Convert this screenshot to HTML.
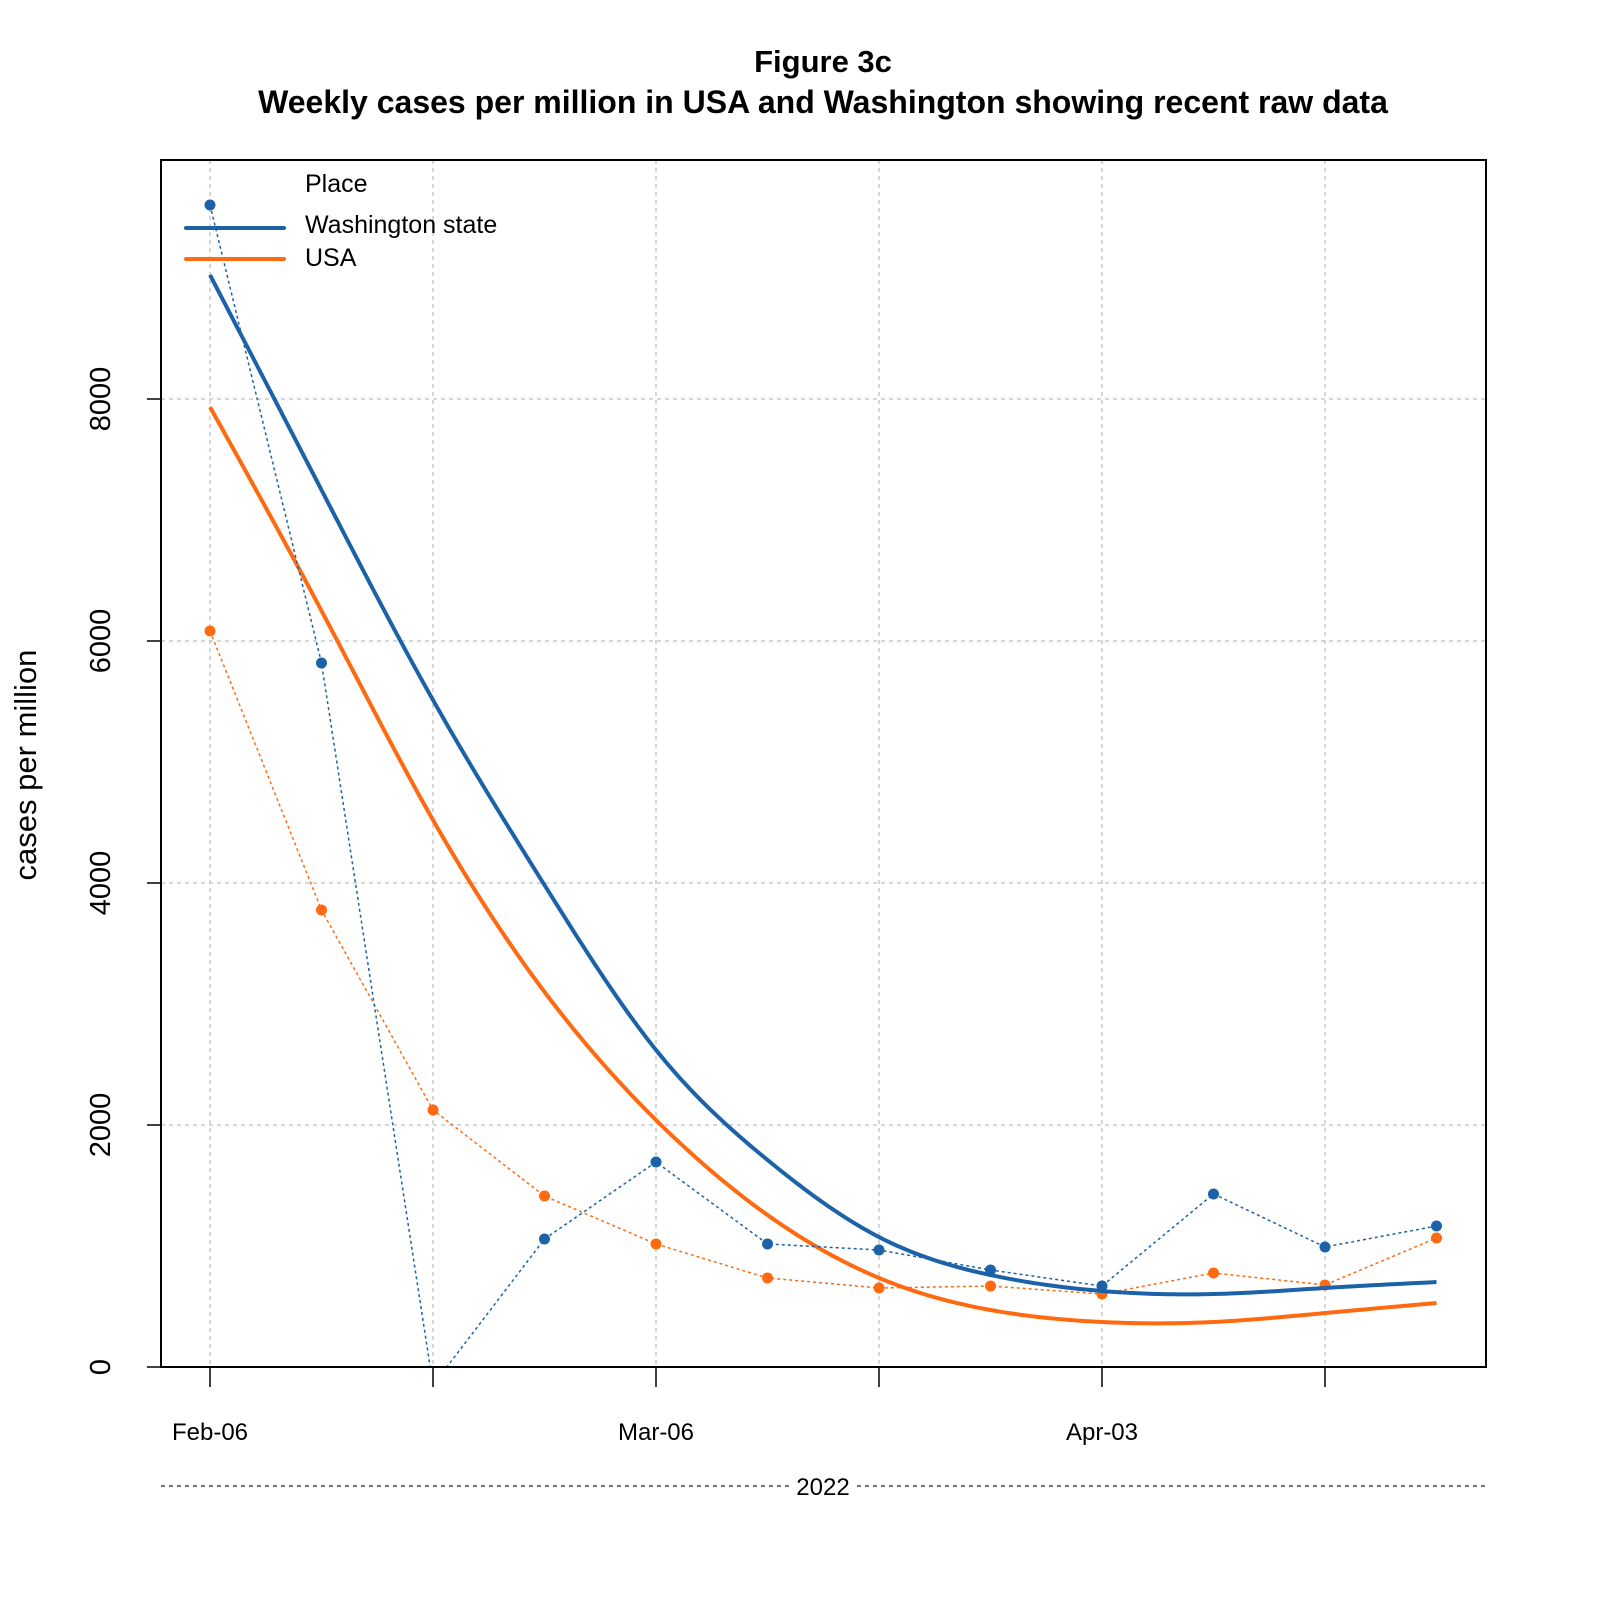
<!DOCTYPE html>
<html><head><meta charset="utf-8"><style>
body{margin:0;background:#fff;}
svg{display:block;font-family:"Liberation Sans",Arial,sans-serif;}
</style></head><body>
<svg id="chart" width="1600" height="1600" viewBox="0 0 1600 1600" xmlns="http://www.w3.org/2000/svg">
<rect width="1600" height="1600" fill="#fff"/>
<text x="823" y="72" font-size="31" font-weight="bold" text-anchor="middle">Figure 3c</text>
<text x="823" y="113" font-size="32" font-weight="bold" text-anchor="middle">Weekly cases per million in USA and Washington showing recent raw data</text>
<g id="grid"></g>
<g id="axes"></g>
<defs><clipPath id="plotclip"><rect x="161" y="160" width="1325" height="1207"/></clipPath></defs>
<g id="series" clip-path="url(#plotclip)"></g>
<rect x="161" y="160" width="1325" height="1207" fill="none" stroke="#000" stroke-width="2"/>
<text transform="translate(36,765) rotate(-90)" font-size="31" text-anchor="middle">cases per million</text>
<line x1="161" y1="1486" x2="1486" y2="1486" stroke="#444" stroke-width="1.5" stroke-dasharray="4,4"/>
<rect x="792" y="1470" width="62" height="30" fill="#fff"/>
<text x="823" y="1495" font-size="24" text-anchor="middle">2022</text>
<g>
<text x="305" y="192" font-size="25">Place</text>
<line x1="186" y1="228" x2="284" y2="228" stroke="#1b62a8" stroke-width="4" stroke-linecap="round"/>
<text x="305" y="233" font-size="25">Washington state</text>
<line x1="186" y1="259" x2="284" y2="259" stroke="#ff6a10" stroke-width="4" stroke-linecap="round"/>
<text x="305" y="266" font-size="25">USA</text>
</g>
</svg>
<script>
const weeks = [0,1,2,3,4,5,6,7,8,9,10,11];
const waRaw = [9603,5818,-150,1058,1694,1017,967,802,669,1430,992,1165];
const usaRaw = [6083,3777,2124,1413,1017,736,653,669,603,777,678,1066];
const waSmooth = [9025,7248,5512,3983,2620,1711,1074,760,628,603,653,702];
const usaSmooth = [7934,6250,4521,3100,2041,1256,736,471,372,372,446,529];
const yTicks = [0,2000,4000,6000,8000];
const xTickWeeks = [0,2,4,6,8,10];
const xLabels = ["Feb-06","","Mar-06","","Apr-03",""];

const NS="http://www.w3.org/2000/svg";
const xs = w => 210 + w*111.5;
const ys = v => 1367 - v*0.121;
function mk(tag, attrs, parent){const e=document.createElementNS(NS,tag);for(const k in attrs)e.setAttribute(k,attrs[k]);parent.appendChild(e);return e;}
const grid=document.getElementById('grid'), axes=document.getElementById('axes'), series=document.getElementById('series');

yTicks.forEach(t=>{
  const g=mk('line',{x1:161,x2:1486,y1:ys(t),y2:ys(t),stroke:'#c8c8c8','stroke-width':1.5,'stroke-dasharray':'4,4'},grid);
  
  
  const tk=mk('line',{x1:147,x2:161,y1:ys(t),y2:ys(t),stroke:'#000','stroke-width':1.5},axes);
  
  
  const lb=mk('text',{transform:`translate(110,${ys(t)}) rotate(-90)`,'font-size':29,'text-anchor':'middle'},axes);
  lb.textContent=t;
  
  
});
xTickWeeks.forEach((w,i)=>{
  const g=mk('line',{x1:xs(w),x2:xs(w),y1:160,y2:1367,stroke:'#c8c8c8','stroke-width':1.5,'stroke-dasharray':'4,4'},grid);
  
  
  const tk=mk('line',{x1:xs(w),x2:xs(w),y1:1367,y2:1387,stroke:'#000','stroke-width':1.5},axes);
  
  
  if(xLabels[i]){
    const lb=mk('text',{x:xs(w),y:1440,'font-size':24,'text-anchor':'middle'},axes);
    lb.textContent=xLabels[i];
    
    
  }
});
const zl=mk('line',{x1:161,x2:1486,y1:ys(0),y2:ys(0),stroke:'#000','stroke-width':1.5},axes);



function splinePath(vals){
  const n=vals.length, y=vals.slice(), M=new Array(n).fill(0);
  // natural cubic spline (unit spacing)
  const a=[],b=[],c=[],d=[];
  for(let i=1;i<n-1;i++){a.push(1);b.push(4);c.push(1);d.push(6*(y[i+1]-2*y[i]+y[i-1]));}
  const m=b.length;
  for(let i=1;i<m;i++){const w=a[i]/b[i-1];b[i]-=w*c[i-1];d[i]-=w*d[i-1];}
  const sol=new Array(m);
  sol[m-1]=d[m-1]/b[m-1];
  for(let i=m-2;i>=0;i--)sol[i]=(d[i]-c[i]*sol[i+1])/b[i];
  for(let i=0;i<m;i++)M[i+1]=sol[i];
  let pts=[];
  for(let i=0;i<n-1;i++){
    for(let s=0;s<20;s++){
      const t=s/20;
      const v=(1-t)*y[i]+t*y[i+1]+((Math.pow(1-t,3)-(1-t))*M[i]+(Math.pow(t,3)-t)*M[i+1])/6;
      pts.push(`${xs(weeks[i]+t)},${ys(v)}`);
    }
  }
  pts.push(`${xs(weeks[n-1])},${ys(y[n-1])}`);
  return 'M'+pts.join(' L');
}
function drawSeries(raw,smooth,color,name){
  const pl=mk('polyline',{points:raw.map((v,i)=>`${xs(weeks[i])},${ys(v)}`).join(' '),fill:'none',stroke:color,'stroke-width':1.5,'stroke-dasharray':'3,3'},series);
  
  
  raw.forEach((v,i)=>{
    const c=mk('circle',{cx:xs(weeks[i]),cy:ys(v),r:5.5,fill:color},series);
    
    
  });
  const sp=mk('path',{d:splinePath(smooth),fill:'none',stroke:color,'stroke-width':4},series);
  
  
}
drawSeries(usaRaw,usaSmooth,'#ff6a10','usa');
drawSeries(waRaw,waSmooth,'#1b62a8','washington');
</script>
</body></html>
